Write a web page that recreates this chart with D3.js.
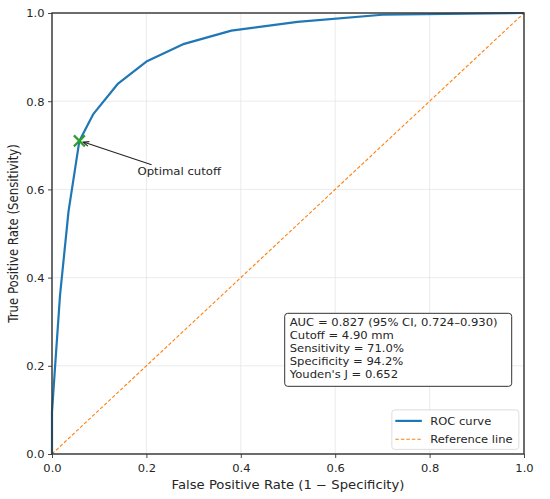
<!DOCTYPE html>
<html>
<head>
<meta charset="utf-8">
<script src="https://cdn.jsdelivr.net/npm/d3@7"></script>
<style>
  body { margin: 0; background: #fff; }
  text { font-family: "DejaVu Sans", sans-serif; fill: #262626; }
</style>
</head>
<body>
<div id="chart"></div>
<script>
// ROC curve points
const fpr = [0, 0, 0.006, 0.017, 0.035, 0.058, 0.087, 0.14, 0.2, 0.28, 0.38, 0.52, 0.7, 1.0];
const tpr = [0, 0.095, 0.19, 0.36, 0.55, 0.71, 0.77, 0.84, 0.89, 0.93, 0.96, 0.98, 0.996, 1.0];
const refLine = [[0, 0], [1, 1]];
const optimal = { fpr: 0.058, tpr: 0.71 };
const ticks = [0, 0.2, 0.4, 0.6, 0.8, 1.0];
const statLines = [
  'AUC = 0.827 (95% CI, 0.724\u20130.930)',
  'Cutoff = 4.90 mm',
  'Sensitivity = 71.0%',
  'Specificity = 94.2%',
  "Youden's J = 0.652"
];
const legendItems = [
  { label: 'ROC curve', color: '#1f77b4', dash: null, width: 2.2 },
  { label: 'Reference line', color: '#ff7f0e', dash: '3.5,2', width: 1.1 }
];

const W = 550, H = 499;
const m = { top: 13, right: 26, bottom: 45, left: 52 };
const w = W - m.left - m.right;
const h = H - m.top - m.bottom;
const SQ = 0.89; // picture is a bit squashed vertically

const svg = d3.select('#chart').append('svg').attr('width', W).attr('height', H);
const g = svg.append('g').attr('transform', `translate(${m.left},${m.top})`);

const x = d3.scaleLinear().domain([0, 1]).range([0, w]);
const y = d3.scaleLinear().domain([0, 1]).range([h, 0]);

function label(parent, px, py, str, size, anchor) {
  return parent.append('text')
    .attr('transform', `translate(${px},${py}) scale(1,${SQ})`)
    .attr('font-size', size).attr('text-anchor', anchor || 'start').text(str);
}

// grid
g.append('g').selectAll('line').data(ticks).join('line')
  .attr('x1', d => x(d)).attr('x2', d => x(d)).attr('y1', 0).attr('y2', h)
  .attr('stroke', '#e6e6e6').attr('stroke-width', 0.8);
g.append('g').selectAll('line').data(ticks).join('line')
  .attr('y1', d => y(d)).attr('y2', d => y(d)).attr('x1', 0).attr('x2', w)
  .attr('stroke', '#e6e6e6').attr('stroke-width', 0.8);

// axes
const fmt = d3.format('.1f');
const xAx = g.append('g').attr('transform', `translate(0,${h})`)
  .call(d3.axisBottom(x).tickValues(ticks).tickFormat(fmt).tickSize(4));
const yAx = g.append('g')
  .call(d3.axisLeft(y).tickValues(ticks).tickFormat(fmt).tickSize(4));
[xAx, yAx].forEach(ax => {
  ax.select('.domain').remove();
  ax.selectAll('line').attr('stroke', '#333').attr('stroke-width', 0.9);
  ax.selectAll('text').attr('font-size', 11.5).attr('font-family', 'DejaVu Sans')
    .attr('fill', '#262626').attr('x', 0).attr('y', 0).attr('dy', 0);
});
xAx.selectAll('text').attr('transform', `translate(0,18) scale(1,${SQ})`);
yAx.selectAll('text').attr('transform', `translate(-7.5,3.8) scale(1,${SQ})`);

// reference line
g.append('path').datum(refLine)
  .attr('d', d3.line().x(d => x(d[0])).y(d => y(d[1])))
  .attr('fill', 'none').attr('stroke', '#ff7f0e').attr('stroke-width', 1.1)
  .attr('stroke-dasharray', '3.5,2');

// ROC curve
const roc = fpr.map((f, i) => [f, tpr[i]]);
g.append('path').datum(roc)
  .attr('d', d3.line().x(d => x(d[0])).y(d => y(d[1])))
  .attr('fill', 'none').attr('stroke', '#1f77b4').attr('stroke-width', 2.2)
  .attr('stroke-linejoin', 'round');

// spines
g.append('rect').attr('width', w).attr('height', h)
  .attr('fill', 'none').attr('stroke', '#333').attr('stroke-width', 1.4);

// optimal marker
const ox = x(optimal.fpr), oy = y(optimal.tpr);
g.append('path')
  .attr('d', `M${ox - 5.5},${oy - 5.5}L${ox + 5.5},${oy + 5.5}M${ox - 5.5},${oy + 5.5}L${ox + 5.5},${oy - 5.5}`)
  .attr('stroke', '#2ca02c').attr('stroke-width', 2.2);

// annotation
label(g, x(0.181), y(0.632), 'Optimal cutoff', 11.7);
const ax0 = x(0.211), ay0 = y(0.656);
const ax1 = ox + 4, ay1 = oy + 1.2;
g.append('line').attr('x1', ax0).attr('y1', ay0).attr('x2', ax1).attr('y2', ay1)
  .attr('stroke', '#222').attr('stroke-width', 1.1);
const ang = Math.atan2(ay0 - ay1, ax0 - ax1);
const hl = 6;
g.append('path')
  .attr('d', `M${ax1 + hl * Math.cos(ang - 0.4)},${ay1 + hl * Math.sin(ang - 0.4)}L${ax1},${ay1}L${ax1 + hl * Math.cos(ang + 0.4)},${ay1 + hl * Math.sin(ang + 0.4)}`)
  .attr('fill', 'none').attr('stroke', '#222').attr('stroke-width', 1.1);

// stats box
const bx = x(0.493), by = y(0.319);
const box = g.append('g').attr('transform', `translate(${bx},${by})`);
box.append('rect').attr('width', 227).attr('height', 73).attr('rx', 3)
  .attr('fill', '#fff').attr('stroke', '#333').attr('stroke-width', 1);
statLines.forEach((s, i) => label(box, 5, 12.3 + i * 13.2, s, 11.6));

// legend
const lg = g.append('g').attr('transform', `translate(${x(0.72)},${y(0.1)})`);
lg.append('rect').attr('width', 127).attr('height', 39.5).attr('rx', 3)
  .attr('fill', '#fff').attr('fill-opacity', 0.85).attr('stroke', '#d9d9d9').attr('stroke-width', 0.9);
legendItems.forEach((it, i) => {
  const ly = 11 + i * 18.3;
  lg.append('line').attr('x1', 3.5).attr('x2', 30).attr('y1', ly).attr('y2', ly)
    .attr('stroke', it.color).attr('stroke-width', it.width)
    .attr('stroke-dasharray', it.dash);
  label(lg, 38.5, ly + 4, it.label, 11.5);
});

// axis labels
label(g, w / 2, h + 35, 'False Positive Rate (1 \u2212 Specificity)', 13.2, 'middle');
g.append('text')
  .attr('transform', `translate(-34,${h / 2}) rotate(-90) scale(${SQ},1)`)
  .attr('text-anchor', 'middle').attr('font-size', 13.2).text('True Positive Rate (Sensitivity)');
</script>
</body>
</html>
